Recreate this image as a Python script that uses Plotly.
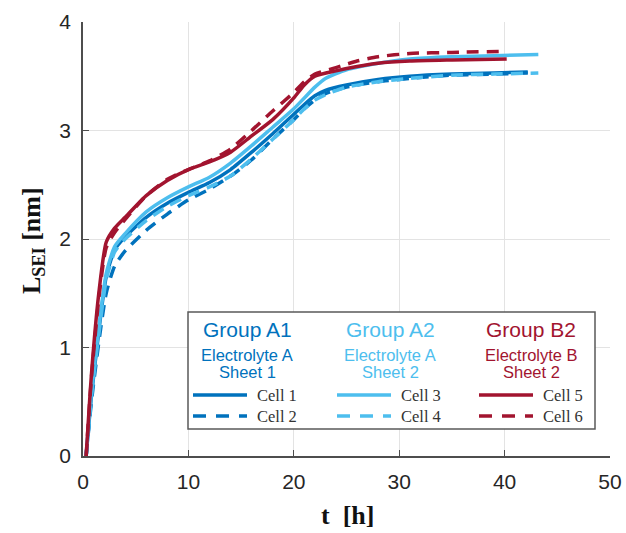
import plotly.graph_objects as go

# ---------------- data ----------------
t_cell1 = [0.3, 0.8, 1.5, 2.2, 3, 4, 6, 8, 10, 12, 14, 16, 18, 20, 21, 22, 23, 25, 28, 31, 35, 39, 42.2]
L_cell1 = [0, 0.55, 1.15, 1.65, 1.9, 2.02, 2.2, 2.33, 2.43, 2.52, 2.64, 2.8, 2.97, 3.15, 3.24, 3.32, 3.37, 3.42, 3.47, 3.5, 3.52, 3.53, 3.54]

t_cell2 = [0.3, 0.8, 1.5, 2.2, 3, 4, 6, 8, 10, 12, 14, 16, 18, 20, 21, 22, 23, 25, 28, 31, 35, 39, 42.2]
L_cell2 = [0, 0.5, 1.05, 1.5, 1.75, 1.89, 2.08, 2.23, 2.36, 2.46, 2.58, 2.73, 2.92, 3.1, 3.2, 3.28, 3.34, 3.4, 3.45, 3.48, 3.51, 3.52, 3.53]

t_cell3 = [0.3, 0.8, 1.5, 2.2, 3, 4, 6, 8, 10, 12, 14, 16, 18, 20, 21, 22, 23, 25, 28, 31, 35, 39, 43.2]
L_cell3 = [0, 0.58, 1.18, 1.68, 1.93, 2.05, 2.25, 2.38, 2.48, 2.57, 2.7, 2.86, 3.03, 3.2, 3.3, 3.4, 3.48, 3.56, 3.62, 3.66, 3.68, 3.69, 3.70]

t_cell4 = [0.3, 0.8, 1.5, 2.2, 3, 4, 6, 8, 10, 12, 14, 16, 18, 20, 21, 22, 23, 25, 28, 31, 35, 39, 43.2]
L_cell4 = [0, 0.55, 1.12, 1.62, 1.88, 2.0, 2.17, 2.3, 2.4, 2.48, 2.58, 2.74, 2.92, 3.1, 3.2, 3.28, 3.33, 3.4, 3.45, 3.48, 3.51, 3.52, 3.53]

t_cell5 = [0.3, 0.8, 1.5, 2.2, 3, 4, 6, 8, 10, 12, 14, 16, 18, 20, 21, 22, 24, 26, 28, 31, 35, 40.2]
L_cell5 = [0, 0.75, 1.5, 1.97, 2.1, 2.2, 2.4, 2.54, 2.64, 2.71, 2.8, 2.95, 3.1, 3.3, 3.42, 3.5, 3.55, 3.59, 3.62, 3.64, 3.65, 3.66]

t_cell6 = [0.3, 0.8, 1.5, 2.2, 3, 4, 6, 8, 10, 12, 14, 16, 18, 20, 21, 22, 24, 26, 28, 31, 35, 39.8]
L_cell6 = [0, 0.72, 1.45, 1.92, 2.06, 2.18, 2.4, 2.55, 2.64, 2.72, 2.83, 3.0, 3.18, 3.35, 3.45, 3.52, 3.58, 3.64, 3.68, 3.71, 3.72, 3.73]

x_ticks = [0, 10, 20, 30, 40, 50]
y_ticks = [0, 1, 2, 3, 4]

x_title = "<b>t  [h]</b>"
y_title = "<b>L<sub>SEI</sub> [nm]</b>"

groups = ["Group A1", "Group A2", "Group B2"]
group_electrolyte = ["Electrolyte A", "Electrolyte A", "Electrolyte B"]
group_sheet = ["Sheet 1", "Sheet 2", "Sheet 2"]
cell_names = [["Cell 1", "Cell 2"], ["Cell 3", "Cell 4"], ["Cell 5", "Cell 6"]]

# ---------------- style ----------------
C_DARK = "#0072BD"
C_LIGHT = "#4DBEEE"
C_RED = "#A2142F"
colors = [C_DARK, C_LIGHT, C_RED]
DASH = "12px,8px"
LW = 3.5

series = [
    (t_cell1, L_cell1, C_DARK, "solid", "Cell 1"),
    (t_cell2, L_cell2, C_DARK, DASH, "Cell 2"),
    (t_cell3, L_cell3, C_LIGHT, "solid", "Cell 3"),
    (t_cell4, L_cell4, C_LIGHT, DASH, "Cell 4"),
    (t_cell5, L_cell5, C_RED, "solid", "Cell 5"),
    (t_cell6, L_cell6, C_RED, DASH, "Cell 6"),
]

fig = go.Figure()
for t, L, c, d, name in series:
    fig.add_trace(go.Scatter(
        x=t, y=L, mode="lines", name=name, showlegend=False,
        line=dict(color=c, width=LW, dash=d, shape="spline", smoothing=0.6),
    ))

# ---------------- custom legend (paper coords) ----------------
W, H = 626, 533
ml, mr, mt, mb = 83, 16, 22, 77
pw, ph = W - ml - mr, H - mt - mb


def px(x):
    return (x - ml) / pw


def py(y):
    return (H - mb - y) / ph


SANS = "Liberation Sans, Arial"
SERIF = "Liberation Serif, Times New Roman"

shapes = [dict(type="rect", xref="paper", yref="paper",
               x0=px(188), x1=px(595), y0=py(429), y1=py(312),
               line=dict(color="#5a5a5a", width=1.5), fillcolor="white", layer="above")]
annotations = []
col_centers = [247, 390, 531]
line_x0 = [193, 337, 479]


def txt(x, y, s, font, anchor="center"):
    annotations.append(dict(xref="paper", yref="paper", x=px(x), y=py(y), text=s,
                            showarrow=False, xanchor=anchor, yanchor="middle", font=font))


for i in range(3):
    txt(col_centers[i], 329, groups[i], dict(family=SANS, size=21, color=colors[i]))
    txt(col_centers[i], 355, group_electrolyte[i], dict(family=SANS, size=16.5, color=colors[i]))
    txt(col_centers[i], 372, group_sheet[i], dict(family=SANS, size=16.5, color=colors[i]))
    for j, yy in enumerate([395, 416]):
        shapes.append(dict(type="line", xref="paper", yref="paper",
                           x0=px(line_x0[i]), x1=px(line_x0[i] + 54), y0=py(yy), y1=py(yy),
                           line=dict(color=colors[i], width=LW, dash="solid" if j == 0 else "13px,10px"),
                           layer="above"))
        txt(line_x0[i] + 62, yy, cell_names[i][j], dict(family=SERIF, size=16.5, color="#333333"), "left")

# axis titles as annotations
annotations.append(dict(xref="paper", yref="paper", x=px(347), y=py(515), text=x_title,
                        showarrow=False, xanchor="center", yanchor="middle",
                        font=dict(family=SERIF, size=26, color="#111111")))
annotations.append(dict(xref="paper", yref="paper", x=px(33), y=py(241), text=y_title,
                        showarrow=False, xanchor="center", yanchor="middle", textangle=-90,
                        font=dict(family=SERIF, size=26, color="#111111")))

axis_common = dict(ticks="inside", ticklen=6, tickwidth=1.2, tickcolor="#4d4d4d",
                   showline=True, linecolor="#4d4d4d", linewidth=1.5,
                   showgrid=True, gridcolor="#e3e3e3", gridwidth=1, zeroline=False,
                   automargin=False,
                   tickfont=dict(family=SANS, size=21, color="#262626"))

fig.update_layout(
    width=W, height=H,
    margin=dict(l=ml, r=mr, t=mt, b=mb),
    paper_bgcolor="white", plot_bgcolor="white",
    shapes=shapes, annotations=annotations,
    xaxis=dict(range=[0, 50], tickvals=x_ticks, ticklabelstandoff=6, **axis_common),
    yaxis=dict(range=[0, 4], tickvals=y_ticks, ticklabelstandoff=6, **axis_common),
)

fig.write_html("out.html", config={"displayModeBar": False},
               post_script="document.body.style.margin='0';")
